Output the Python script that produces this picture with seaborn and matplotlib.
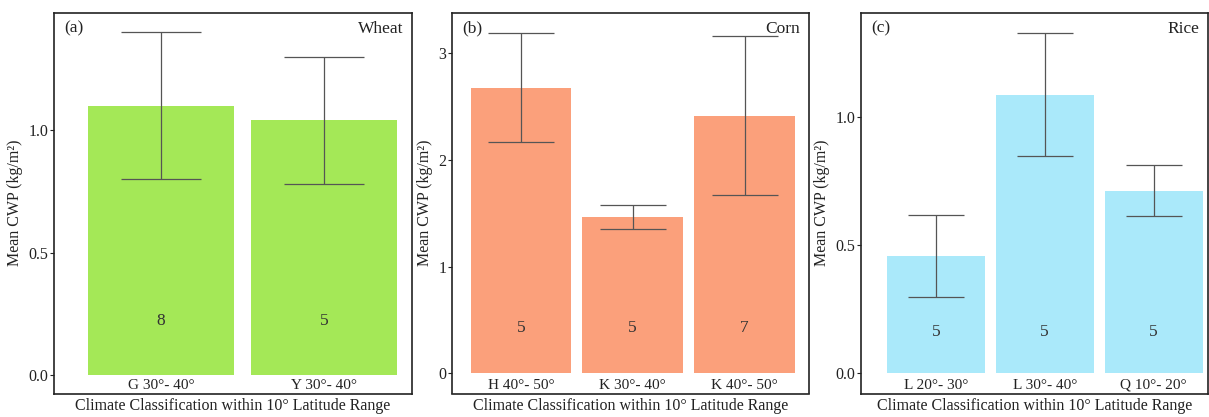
import matplotlib
matplotlib.use("Agg")
import matplotlib.pyplot as plt
import seaborn as sns
import pandas as pd

# ---- data ----
wheat_labels = ["G 30°- 40°", "Y 30°- 40°"]
wheat_means = [1.10, 1.04]
wheat_err = [0.30, 0.26]
wheat_n = [8, 5]

corn_labels = ["H 40°- 50°", "K 30°- 40°", "K 40°- 50°"]
corn_means = [2.67, 1.465, 2.41]
corn_err = [0.51, 0.11, 0.745]
corn_n = [5, 5, 7]

rice_labels = ["L 20°- 30°", "L 30°- 40°", "Q 10°- 20°"]
rice_means = [0.457, 1.085, 0.711]
rice_err = [0.16, 0.24, 0.10]
rice_n = [5, 5, 5]

sns.set_style("white")
plt.rcParams["font.family"] = ["Liberation Serif", "DejaVu Serif"]
plt.rcParams["mathtext.fontset"] = "stix"

fig = plt.figure(figsize=(12.09, 4.17), dpi=100)

panels = [
    dict(labels=wheat_labels, means=wheat_means, err=wheat_err, n=wheat_n,
         color="#A4E857", tag="(a)", crop="Wheat",
         rect=[54 / 1209, 23.5 / 417, 358 / 1209, 380.5 / 417],
         xlim=(-0.656, 1.54), ylim=(-0.0755, 1.478), yticks=[0.0, 0.5, 1.0],
         yfmt="{:.1f}", capsize=29, ny=0.19),
    dict(labels=corn_labels, means=corn_means, err=corn_err, n=corn_n,
         color="#FBA07B", tag="(b)", crop="Corn",
         rect=[452 / 1209, 23.5 / 417, 357 / 1209, 380.5 / 417],
         xlim=(-0.617, 2.577), ylim=(-0.187, 3.37), yticks=[0, 1, 2, 3],
         yfmt="{:.0f}", capsize=24, ny=0.172),
    dict(labels=rice_labels, means=rice_means, err=rice_err, n=rice_n,
         color="#AAE9FA", tag="(c)", crop="Rice",
         rect=[861 / 1209, 23.5 / 417, 347 / 1209, 380.5 / 417],
         xlim=(-0.688, 2.5), ylim=(-0.081, 1.405), yticks=[0.0, 0.5, 1.0],
         yfmt="{:.1f}", capsize=20, ny=0.162),
]

for p in panels:
    ax = fig.add_axes(p["rect"])
    df = pd.DataFrame({"cls": p["labels"], "cwp": p["means"]})
    sns.barplot(data=df, x="cls", y="cwp", color=p["color"], saturation=1,
                width=0.9, errorbar=None, ax=ax, linewidth=0)
    xs = list(range(len(p["labels"])))
    ax.errorbar(xs, p["means"], yerr=p["err"], fmt="none", ecolor="#555555",
                elinewidth=0.9, capsize=p["capsize"], capthick=0.9, zorder=3)
    for x, n in zip(xs, p["n"]):
        ax.text(x, p["ny"], str(n), transform=ax.get_xaxis_transform(),
                ha="center", va="center", fontsize=12.5, color="#333333")
    ax.set_xlim(*p["xlim"])
    ax.set_ylim(*p["ylim"])
    ax.set_yticks(p["yticks"])
    ax.set_yticklabels([p["yfmt"].format(v) for v in p["yticks"]])
    ax.tick_params(axis="y", direction="out", length=3, width=0.8,
                   labelsize=11.5, pad=1, left=True, colors="#222222")
    ax.tick_params(axis="x", length=0, pad=-10.5, labelsize=11,
                   colors="#222222")
    ax.set_xlabel("Climate Classification within 10° Latitude Range",
                  fontsize=11.5, labelpad=3, color="#222222")
    ax.set_ylabel("Mean CWP (kg/m²)", fontsize=11.5, labelpad=4,
                  color="#222222")
    for s in ax.spines.values():
        s.set_visible(True)
        s.set_color("#222222")
        s.set_linewidth(1.2)
    ax.text(0.03, 0.98, p["tag"], transform=ax.transAxes, ha="left",
            va="top", fontsize=12.5, color="#222222")
    ax.text(0.975, 0.98, p["crop"], transform=ax.transAxes, ha="right",
            va="top", fontsize=12.5, color="#222222")

fig.savefig("out.png", dpi=100)
